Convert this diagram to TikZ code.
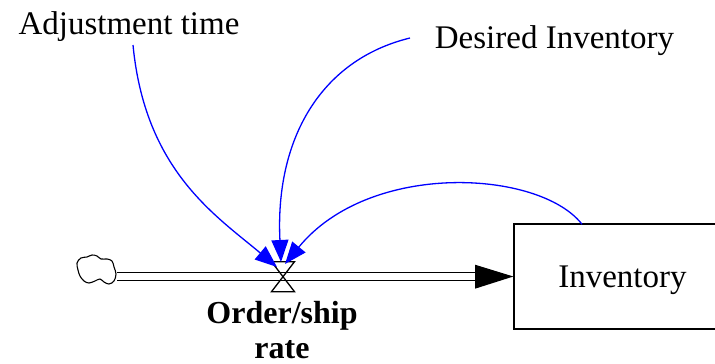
\documentclass[tikz,border=0pt]{standalone}
\usepackage{fontspec}
\setmainfont{Liberation Serif}[BoldFont={Liberation Serif Bold}]
\newfontfamily\lserif{Liberation Serif}[BoldFont={Liberation Serif Bold}]
\usetikzlibrary{arrows.meta}
\begin{document}
\begin{tikzpicture}[x=1pt,y=-1pt,
  lbl/.style={font=\lserif\fontsize{33}{35}\selectfont, inner sep=0pt},
  infl/.style={draw=blue, line width=1.3pt, -{Triangle[length=22pt 0 0,width=17pt 0 0]}},
  pipeline/.style={line width=1.5pt},
  stockbox/.style={draw, line width=1.3pt, minimum width=217pt, minimum height=105pt, inner sep=0pt},
]
\useasboundingbox (0,0) rectangle (715,364);
% nodes
\node[lbl] (adj) at (129,27) {Adjustment time};
\node[lbl] (des) at (554.5,41) {Desired Inventory};
\node[stockbox] (inv) at (622.5,276.5) {};
\node[lbl] (invtxt) at (622.5,280) {Inventory};
\node[lbl, font=\lserif\fontsize{32}{35}\selectfont\bfseries, align=center] (rate) at (282,330) {Order/ship\\rate};
% cloud
\draw[line width=1.1pt] plot[smooth cycle, tension=0.6] coordinates {
 (77,263) (81,258) (87,257) (92,255) (97,256) (101,259) (107,259) (112,261)
 (114,267) (116,274) (114,281) (109,284) (104,282) (100,279) (95,281)
 (89,283) (84,281) (80,276) (78,270)};
\coordinate (src) at (117,276.7);
\coordinate (valve) at (283,276.7);
\coordinate (abase) at (475,276.7);
% pipe
\draw[pipeline] ([yshift=-4pt]src) -- ([yshift=-4pt]abase);
\draw[pipeline] ([yshift=4pt]src) -- ([yshift=4pt]abase);
\fill ([yshift=-12pt]abase) -- (inv.west) -- ([yshift=12pt]abase) -- cycle;
% valve
\draw[line width=1.3pt, line join=miter]
  ([xshift=-11.5pt,yshift=-15pt]valve) -- ([xshift=11.5pt,yshift=-15pt]valve)
  -- ([xshift=-11.5pt,yshift=15pt]valve) -- ([xshift=11.5pt,yshift=15pt]valve) -- cycle;
% influence links
\coordinate (adjstart) at (133,45);
\coordinate (desstart) at (410,38);
\coordinate (invstart) at (582,224.3);
\coordinate (t1) at (277,267);
\coordinate (t2) at (281,262);
\coordinate (t3) at (285,264);
\draw[infl] (adjstart) .. controls (145,170) and (215,215) .. (t1);
\draw[infl] (desstart) .. controls (320,60) and (275,140) .. (t2);
\draw[infl] (invstart) .. controls (540,170) and (370,160) .. (t3);
\end{tikzpicture}
\end{document}
